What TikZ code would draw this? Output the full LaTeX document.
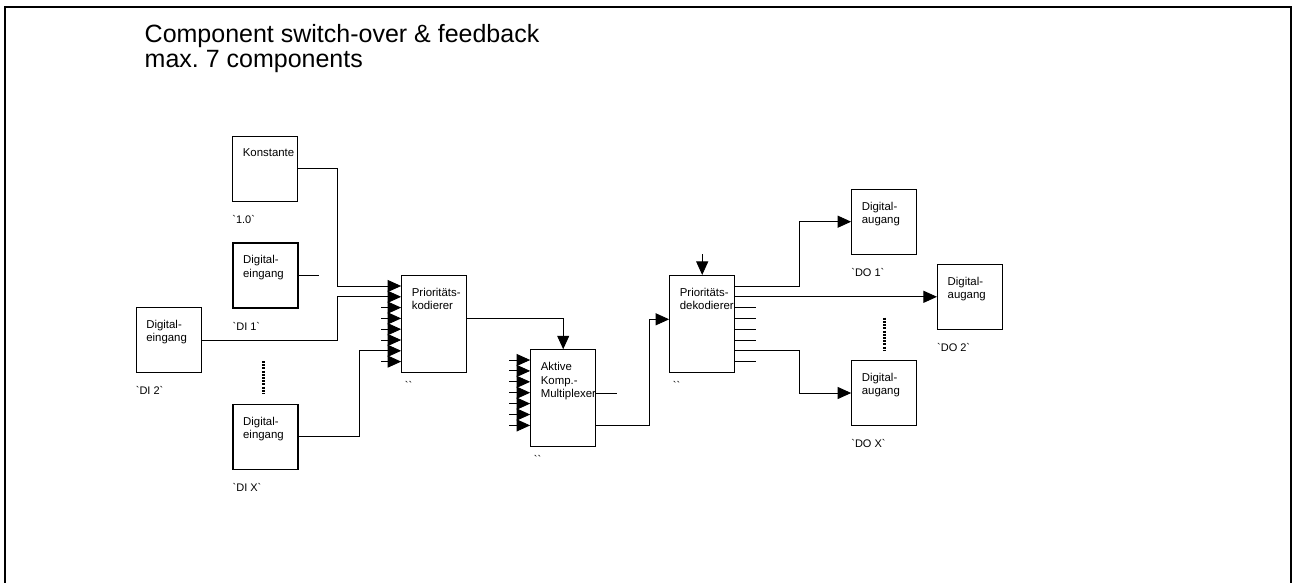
\documentclass[tikz,border=0pt]{standalone}
\usepackage{fontspec}
\setmainfont{Liberation Sans}
\usetikzlibrary{arrows.meta}

\begin{document}
\begin{tikzpicture}[x=1pt, y=-1pt, >={Triangle[length=13.5pt, width=12pt]},
    blk/.style={draw, line width=1.1pt, minimum width=65pt, minimum height=65pt, inner sep=0pt},
    tall/.style={blk, minimum height=97pt},
    txt/.style={anchor=north west, inner sep=0pt, align=left, font=\fontsize{11.4}{13.3}\selectfont},
    lbl/.style={anchor=base west, inner sep=0pt, font=\fontsize{11}{12}\selectfont},
    wire/.style={line width=0.9pt},
    dots/.style={line width=3pt, dash pattern=on 2pt off 1.2pt}]
    \useasboundingbox (0,0) rectangle (1293,582);
    \clip (0,0) rectangle (1293,582);
    \draw[line width=2pt] (5,600) -- (5,6.5) -- (1290.5,6.5) -- (1290.5,600);

    % Title
    \node[anchor=north west, inner sep=0pt, align=left, font=\fontsize{25}{25}\selectfont]
        (title) at (144.5,24.5) {Component switch-over \& feedback\\max.\ 7 components};

    % Nodes
    \node[blk] (k) at (265.2,168.7) {};
    \node[blk] (di1) at (265.5,275.5) {};
    \node[blk] (di2) at (168.7,340) {};
    \node[blk] (dix) at (265.5,436.8) {};
    \node[tall] (pk) at (434.2,323.7) {};
    \node[tall] (mux) at (563.2,398.3) {};
    \node[tall] (pd) at (702.2,324) {};
    \node[blk] (do1) at (884.2,221.7) {};
    \node[blk] (do2) at (970,296.8) {};
    \node[blk] (dox) at (884.2,393) {};

    % Texts in the boxes
    \node[txt] (k-t) at ([shift={(10.5pt,-13pt)}]k.north west) {Konstante};
    \node[txt] (di1-t) at ([shift={(10.5pt,-13pt)}]di1.north west) {Digital-\\eingang};
    \node[txt] (di2-t) at ([shift={(10.5pt,-13pt)}]di2.north west) {Digital-\\eingang};
    \node[txt] (dix-t) at ([shift={(10.5pt,-13pt)}]dix.north west) {Digital-\\eingang};
    \node[txt] (pk-t) at ([shift={(10.5pt,-13pt)}]pk.north west) {Prioritäts-\\kodierer};
    \node[txt] (mux-t) at ([shift={(10.5pt,-13pt)}]mux.north west) {Aktive\\Komp.-\\Multiplexer};
    \node[txt] (pd-t) at ([shift={(10.5pt,-13pt)}]pd.north west) {Prioritäts-\\dekodierer};
    \node[txt] (do1-t) at ([shift={(10.5pt,-13pt)}]do1.north west) {Digital-\\augang};
    \node[txt] (do2-t) at ([shift={(10.5pt,-13pt)}]do2.north west) {Digital-\\augang};
    \node[txt] (dox-t) at ([shift={(10.5pt,-13pt)}]dox.north west) {Digital-\\augang};

    % Labels under the boxes
    \node[lbl] (k-l) at ([yshift=-21.5pt]k.south west) {\textasciigrave 1.0\textasciigrave};
    \node[lbl] (di1-l) at ([yshift=-21.5pt]di1.south west) {\textasciigrave DI 1\textasciigrave};
    \node[lbl] (di2-l) at ([yshift=-21.5pt]di2.south west) {\textasciigrave DI 2\textasciigrave};
    \node[lbl] (dix-l) at ([yshift=-21.5pt]dix.south west) {\textasciigrave DI X\textasciigrave};
    \node[lbl] (do1-l) at ([yshift=-21.5pt]do1.south west) {\textasciigrave DO 1\textasciigrave};
    \node[lbl] (do2-l) at ([yshift=-21.5pt]do2.south west) {\textasciigrave DO 2\textasciigrave};
    \node[lbl] (dox-l) at ([yshift=-21.5pt]dox.south west) {\textasciigrave DO X\textasciigrave};
    \node[lbl] (pk-l) at ([shift={(3.5pt,-16.5pt)}]pk.south west) {\textasciigrave\textasciigrave};
    \node[lbl] (mux-l) at ([shift={(3.5pt,-16.5pt)}]mux.south west) {\textasciigrave\textasciigrave};
    \node[lbl] (pd-l) at ([shift={(3.5pt,-16.5pt)}]pd.south west) {\textasciigrave\textasciigrave};

    % Dotted gaps
    \draw[dots] (263.3,361) -- (263.3,393.3);
    \draw[dots] (884.3,317.7) -- (884.3,350.7);

    % Inputs
    \foreach \y [count=\i] in {286,296.8,307.6,318.4,329.2,340,350.8,361.6} {
        \coordinate (pk-in\i) at (381,\y);
        \draw[wire, ->] (pk-in\i) -- (pk.west |- pk-in\i);
    }
    \foreach \y [count=\i] in {360,370.9,381.8,392.7,403.6,414.5,425.4} {
        \coordinate (mux-in\i) at (509.3,\y);
        \draw[wire, ->] (mux-in\i) -- (mux.west |- mux-in\i);
    }
    \foreach \y [count=\i] in {286,296.8,307.6,318.4,329.2,340,350.8,361.6} {
        \coordinate (pd-out\i) at (755.7,\y);
        \draw[wire] (pd.east |- pd-out\i) -- (pd-out\i);
    }

    % Edges
    \coordinate (di1-out) at (319,275.5);
    \coordinate (mux-out) at (616.7,393.3);
    \coordinate (pd-ctl) at (702.2,254);
    \draw[wire] (k.east) -- ++(39,0) |- (pk-in1);
    \draw[wire] (di2.east) -- ++(136,0) |- (pk-in2);
    \draw[wire] (dix.east) -- ++(61.3,0) |- (pk-in7);
    \draw[wire] (di1.east) -- (di1-out);
    \draw[wire, ->] (pk.east |- 0,318.3) -| (mux.north);
    \draw[wire] (mux.east |- mux-out) -- (mux-out);
    \draw[wire, ->] (mux.east |- 0,425) -- ++(53.6,0) |- (pd.west |- 0,319.3);
    \draw[wire, ->] (pd-ctl) -- (pd.north);
    \draw[wire, ->] (pd-out1) -- ++(43.3,0) |- (do1.west);
    \draw[wire, ->] (pd-out2) -- (do2.west);
    \draw[wire, ->] (pd-out7) -- ++(43.3,0) |- (dox.west);
\end{tikzpicture}
\end{document}
